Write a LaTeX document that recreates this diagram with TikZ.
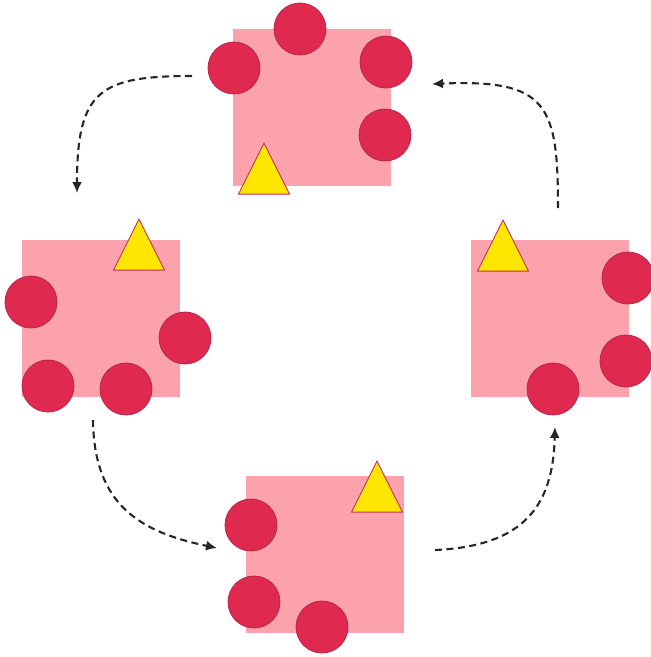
\documentclass[tikz,border=0pt]{standalone}
\usepackage{xcolor}
\usepackage{tikz}
\usetikzlibrary{shapes.geometric, arrows.meta, positioning}

\definecolor{tilepink}{HTML}{FCA2AD}
\definecolor{dotred}{HTML}{E0294F}
\definecolor{dotedge}{HTML}{B52648}
\definecolor{triyellow}{HTML}{FFE600}
\definecolor{triedge}{HTML}{C1305C}

\begin{document}
\begin{tikzpicture}[
    x=1pt, y=-1pt,
    tile/.style={rectangle, fill=tilepink, minimum width=158pt, minimum height=157pt, inner sep=0pt},
    dot/.style={circle, fill=dotred, draw=dotedge, line width=0.8pt, minimum size=52pt, inner sep=0pt},
    tri/.style={isosceles triangle, shape border rotate=90, isosceles triangle stretches, minimum width=51pt, minimum height=51pt, inner sep=0pt, anchor=apex, fill=triyellow, draw=triedge, line width=0.9pt},
    arr/.style={-{Latex[length=11pt, width=10pt]}, line width=2.1pt, black!85, dash pattern=on 7pt off 4.5pt},
]
\useasboundingbox (0,0) rectangle (651,657);

% tiles
\node[tile] (north) at (312,107) {};
\node[tile] (west) at (101,318) {};
\node[tile] (east) at (550,318) {};
\node[tile] (south) at (325,554) {};

% north tile
\node[dot] (n1) at (300,29) {};
\node[dot] (n2) at (234,68) {};
\node[dot] (n3) at (386,62) {};
\node[dot] (n4) at (385,135) {};
\node[tri] (ntri) at (264,142) {};

% west tile
\node[dot] (w1) at (31,302) {};
\node[dot] (w2) at (185,338) {};
\node[dot] (w3) at (48,386) {};
\node[dot] (w4) at (126,389) {};
\node[tri] (wtri) at (139,218) {};

% east tile
\node[dot] (e1) at (628,278) {};
\node[dot] (e2) at (626,361) {};
\node[dot] (e3) at (553,389) {};
\node[tri] (etri) at (503,219) {};

% south tile
\node[dot] (s1) at (251,525) {};
\node[dot] (s2) at (254,602) {};
\node[dot] (s3) at (322,627) {};
\node[tri] (stri) at (377,460) {};

% arrow ends
\coordinate (nw-from) at (192,76);
\coordinate (nw-to) at (77,193);
\coordinate (ws-from) at (93,420);
\coordinate (ws-to) at (217,548);
\coordinate (se-from) at (435,550);
\coordinate (se-to) at (555,427);
\coordinate (en-from) at (558,208);
\coordinate (en-to) at (432,84);

\draw[arr] (nw-from) .. controls (100,76) and (77,90) .. (nw-to);
\draw[arr] (ws-from) .. controls (94,505) and (140,532) .. (ws-to);
\draw[arr] (se-from) .. controls (525,546) and (553,505) .. (se-to);
\draw[arr] (en-from) .. controls (558,105) and (548,79) .. (en-to);

\end{tikzpicture}
\end{document}
